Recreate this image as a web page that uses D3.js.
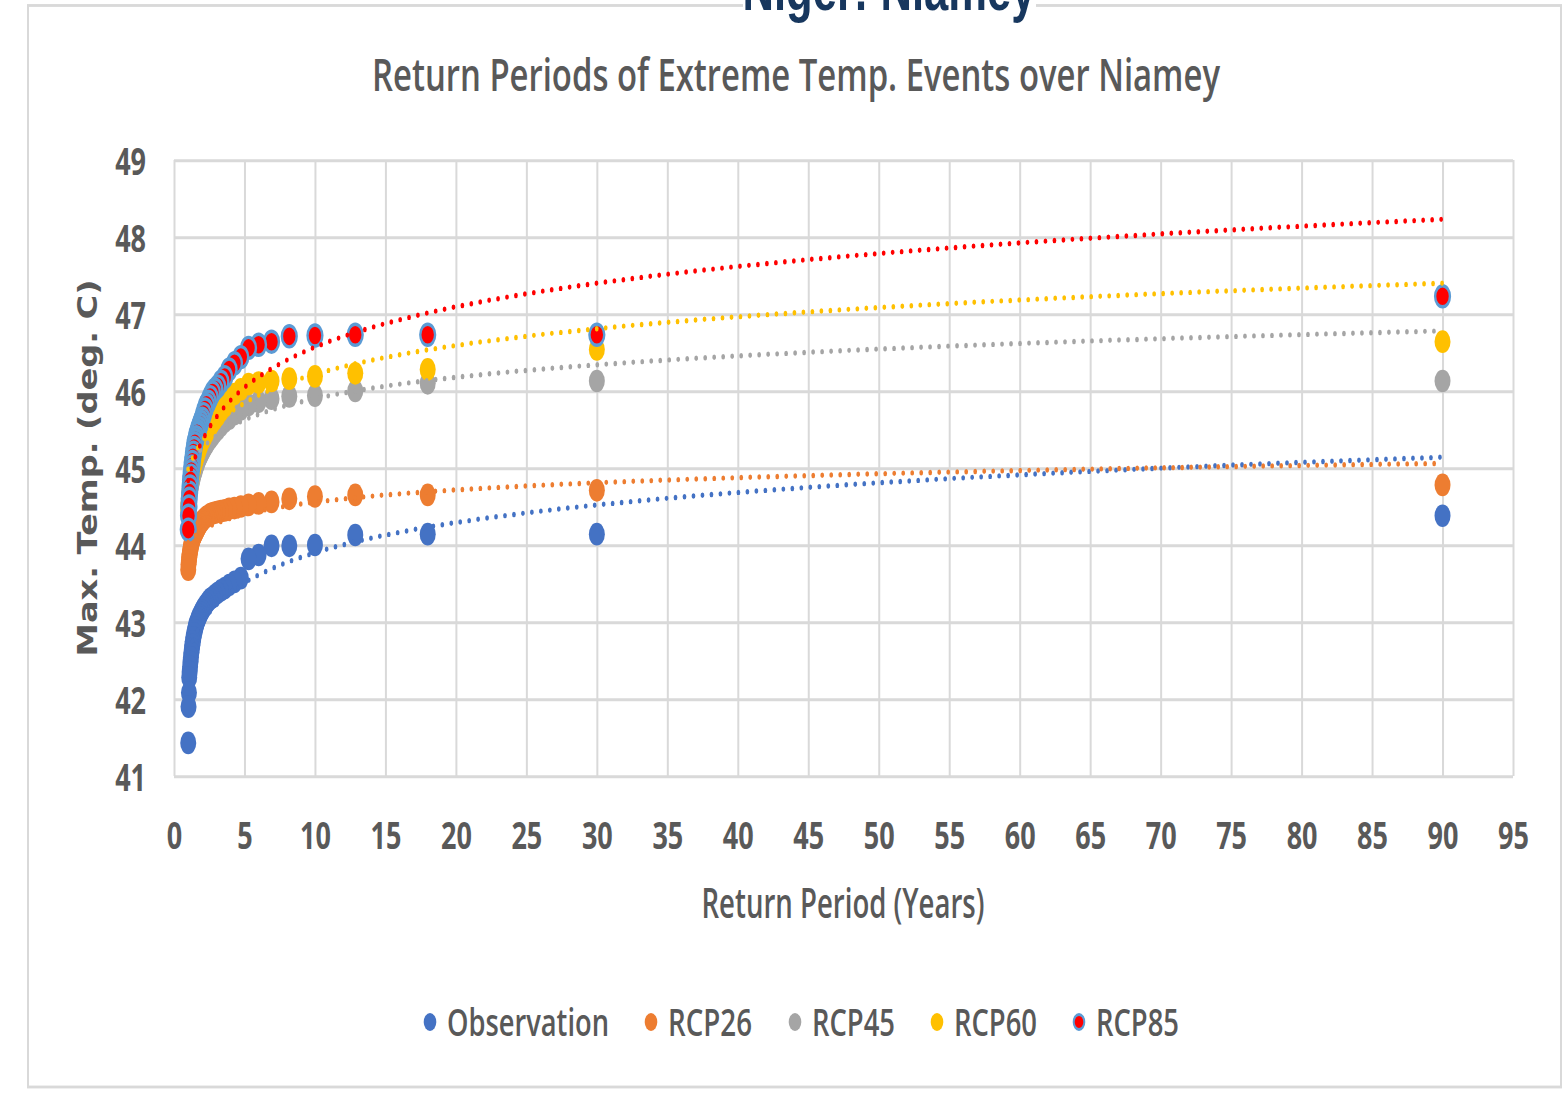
<!DOCTYPE html>
<html>
<head>
<meta charset="utf-8">
<script src="https://cdn.jsdelivr.net/npm/d3@7"></script>
<style>
  body { margin: 0; background: #fff; }
  text { font-family: "Open Sans", sans-serif; fill: #595959; }
</style>
</head>
<body>
<div id="chart"></div>
<script>
var width = 1563,
    height = 1093,
    k = 1.42; // the picture is stretched vertically

// return periods (years), same for every series
var returnPeriod = [90, 30, 18, 12.86, 10, 8.18, 6.92, 6, 5.29, 4.74,
  4.29, 3.91, 3.6, 3.33, 3.1, 2.9, 2.73, 2.57, 2.43, 2.31,
  2.2, 2.09, 2, 1.91, 1.84, 1.76, 1.7, 1.64, 1.58, 1.53,
  1.48, 1.43, 1.38, 1.34, 1.3, 1.27, 1.23, 1.2, 1.17, 1.14,
  1.11, 1.08, 1.06, 1.03, 1.01];

var observation = [44.38, 44.14, 44.14, 44.13, 44.0, 43.99, 43.99, 43.87, 43.82, 43.57,
  43.52, 43.48, 43.44, 43.41, 43.38, 43.35, 43.32, 43.3, 43.27, 43.24,
  43.21, 43.18, 43.15, 43.12, 43.09, 43.06, 43.03, 43.0, 42.97, 42.93,
  42.89, 42.85, 42.8, 42.75, 42.7, 42.65, 42.6, 42.54, 42.48, 42.42,
  42.35, 42.28, 42.08, 41.9, 41.43];
var rcp26 = [44.78, 44.71, 44.65, 44.65, 44.63, 44.6, 44.56, 44.54, 44.52, 44.5,
  44.48, 44.47, 44.45, 44.44, 44.43, 44.42, 44.41, 44.4, 44.38, 44.37,
  44.35, 44.33, 44.31, 44.29, 44.27, 44.24, 44.22, 44.2, 44.18, 44.16,
  44.14, 44.12, 44.1, 44.08, 44.06, 44.04, 44.01, 43.98, 43.95, 43.92,
  43.88, 43.84, 43.8, 43.75, 43.68];
var rcp45 = [46.13, 46.13, 46.1, 46.0, 45.94, 45.93, 45.9, 45.86, 45.82, 45.76,
  45.7, 45.64, 45.6, 45.55, 45.5, 45.46, 45.42, 45.38, 45.35, 45.31,
  45.28, 45.24, 45.21, 45.18, 45.15, 45.12, 45.09, 45.06, 45.03, 45.0,
  44.97, 44.94, 44.91, 44.88, 44.85, 44.82, 44.79, 44.76, 44.73, 44.7,
  44.67, 44.63, 44.6, 44.56, 44.5];
var rcp60 = [46.64, 46.54, 46.28, 46.23, 46.19, 46.16, 46.13, 46.11, 46.09, 46.02,
  45.96, 45.9, 45.8, 45.74, 45.68, 45.63, 45.59, 45.54, 45.5, 45.46,
  45.42, 45.38, 45.35, 45.32, 45.28, 45.24, 45.2, 45.17, 45.14, 45.1,
  45.07, 45.04, 45.0, 44.97, 44.94, 44.9, 44.86, 44.82, 44.78, 44.74,
  44.7, 44.65, 44.6, 44.54, 44.45];
var rcp85 = [47.23, 46.73, 46.73, 46.73, 46.72, 46.71, 46.64, 46.6, 46.56, 46.44,
  46.36, 46.28, 46.18, 46.12, 46.06, 46.02, 45.98, 45.92, 45.86, 45.82,
  45.76, 45.7, 45.64, 45.6, 45.56, 45.52, 45.48, 45.45, 45.4, 45.36,
  45.32, 45.26, 45.2, 45.14, 45.08, 45.02, 44.96, 44.9, 44.84, 44.76,
  44.68, 44.6, 44.5, 44.38, 44.2];

var seriesNames = ["Observation", "RCP26", "RCP45", "RCP60", "RCP85"];
var seriesValues = [observation, rcp26, rcp45, rcp60, rcp85];
var colors = ["#4472C4", "#ED7D31", "#A5A5A5", "#FFC000", "#FF0000"];

// log trendlines, read as value at 1 year and at 90 years
var trendAt1 = [42.6, 44.03, 44.98, 44.98, 44.83];
var trendAt90 = [45.14, 45.06, 46.78, 47.40, 48.23];

var xTicks = d3.range(0, 96, 5);
var yTicks = d3.range(41, 50, 1);

var svg = d3.select("#chart").append("svg")
  .attr("width", width)
  .attr("height", height);

var g = svg.append("g").attr("transform", "scale(1," + k + ")");

// outer chart border
g.append("rect")
  .attr("x", 28).attr("y", 5.5 / k)
  .attr("width", 1533).attr("height", (1087 - 5.5) / k)
  .attr("fill", "#fff").attr("stroke", "#d9d9d9").attr("stroke-width", 2);

var x = d3.scaleLinear().domain([0, 95]).range([174, 1513]);
var y = d3.scaleLinear().domain([41, 49]).range([776 / k, 160 / k]);

// gridlines + tick labels
var xAxis = g.append("g")
  .attr("transform", "translate(0," + y(41) + ")")
  .call(d3.axisBottom(x).tickValues(xTicks).tickSize(-(y(41) - y(49))).tickFormat(d3.format("d")));
var yAxis = g.append("g")
  .attr("transform", "translate(" + x(0) + ",0)")
  .call(d3.axisLeft(y).tickValues(yTicks).tickSize(-(x(95) - x(0))).tickFormat(d3.format("d")));

[xAxis, yAxis].forEach(function(a) {
  a.select(".domain").remove();
  a.selectAll(".tick line").attr("stroke", "#d9d9d9").attr("stroke-width", 2);
  a.selectAll(".tick text")
    .attr("fill", "#595959")
    .style("font-size", "27px")
    .style("font-weight", 700);
});
xAxis.selectAll(".tick text").attr("y", (835 - 776) / k).attr("dy", "0.36em");
yAxis.selectAll(".tick text").attr("x", -28).attr("dy", "0.36em");

// markers
seriesValues.forEach(function(vals, s) {
  var pts = returnPeriod.map(function(rp, i) { return [rp, vals[i]]; });
  var dots = g.append("g").selectAll("circle")
    .data(pts)
    .enter().append("circle")
    .attr("cx", function(d) { return x(d[0]); })
    .attr("cy", function(d) { return y(d[1]); })
    .attr("fill", colors[s]);
  if (seriesNames[s] == "RCP85") {
    dots.attr("r", 7.4).attr("stroke", "#5B9BD5").attr("stroke-width", 2.4);
  } else {
    dots.attr("r", 8);
  }
});

// dotted log trendlines on top
var trendX = d3.range(0, 121).map(function(i) { return Math.exp(Math.log(1.01) + i / 120 * (Math.log(90) - Math.log(1.01))); });
var line = d3.line()
  .x(function(d) { return x(d[0]); })
  .y(function(d) { return y(d[1]); });

seriesNames.forEach(function(name, s) {
  var b = (trendAt90[s] - trendAt1[s]) / Math.log(90);
  g.append("path")
    .datum(trendX.map(function(t) { return [t, trendAt1[s] + b * Math.log(t)]; }))
    .attr("d", line)
    .attr("fill", "none")
    .attr("stroke", colors[s])
    .attr("stroke-width", 3.8)
    .attr("stroke-linecap", "round")
    .attr("stroke-dasharray", "0 9");
});

// titles
g.append("rect")
  .attr("x", 743).attr("y", 0).attr("width", 293).attr("height", 13 / k)
  .attr("fill", "#fff");
g.append("text")
  .attr("x", 889).attr("y", 10 / k)
  .attr("text-anchor", "middle")
  .attr("textLength", 293).attr("lengthAdjust", "spacingAndGlyphs")
  .style("font-family", "'Liberation Sans', Arial, sans-serif")
  .style("font-weight", "bold")
  .style("font-size", "43px")
  .style("fill", "#17375E")
  .text("Niger: Niamey");

g.append("text")
  .attr("x", 796).attr("y", 91 / k)
  .attr("text-anchor", "middle")
  .attr("textLength", 848).attr("lengthAdjust", "spacingAndGlyphs")
  .style("font-size", "32px")
  .style("font-weight", 600)
  .text("Return Periods of Extreme Temp. Events over Niamey");

g.append("text")
  .attr("x", 843).attr("y", 918 / k)
  .attr("text-anchor", "middle")
  .attr("textLength", 283).attr("lengthAdjust", "spacingAndGlyphs")
  .style("font-size", "29px")
  .style("font-weight", 600)
  .text("Return Period (Years)");

g.append("text")
  .attr("transform", "translate(97," + (468 / k) + ") rotate(-90)")
  .attr("text-anchor", "middle")
  .attr("textLength", 377 / k).attr("lengthAdjust", "spacingAndGlyphs")
  .style("font-family", "'DejaVu Sans', Verdana, sans-serif")
  .style("font-weight", "bold")
  .style("font-size", "26px")
  .text("Max. Temp. (deg. C)");

// legend
var legendX = [430, 651, 795, 937, 1079];
var legendW = [162, 84, 83, 83, 83];
var legend = g.append("g").selectAll("g")
  .data(seriesNames)
  .enter().append("g")
  .attr("transform", function(d, i) { return "translate(" + legendX[i] + "," + (1022 / k) + ")"; });

legend.append("circle")
  .attr("r", function(d) { return d == "RCP85" ? 5.3 : 6.3; })
  .attr("fill", function(d, i) { return colors[i]; })
  .attr("stroke", function(d) { return d == "RCP85" ? "#5B9BD5" : "none"; })
  .attr("stroke-width", 2);

legend.append("text")
  .attr("x", 17)
  .attr("dy", "0.36em")
  .attr("textLength", function(d, i) { return legendW[i]; })
  .attr("lengthAdjust", "spacingAndGlyphs")
  .style("font-size", "27px")
  .style("font-weight", 600)
  .text(function(d) { return d; });
</script>
</body>
</html>
